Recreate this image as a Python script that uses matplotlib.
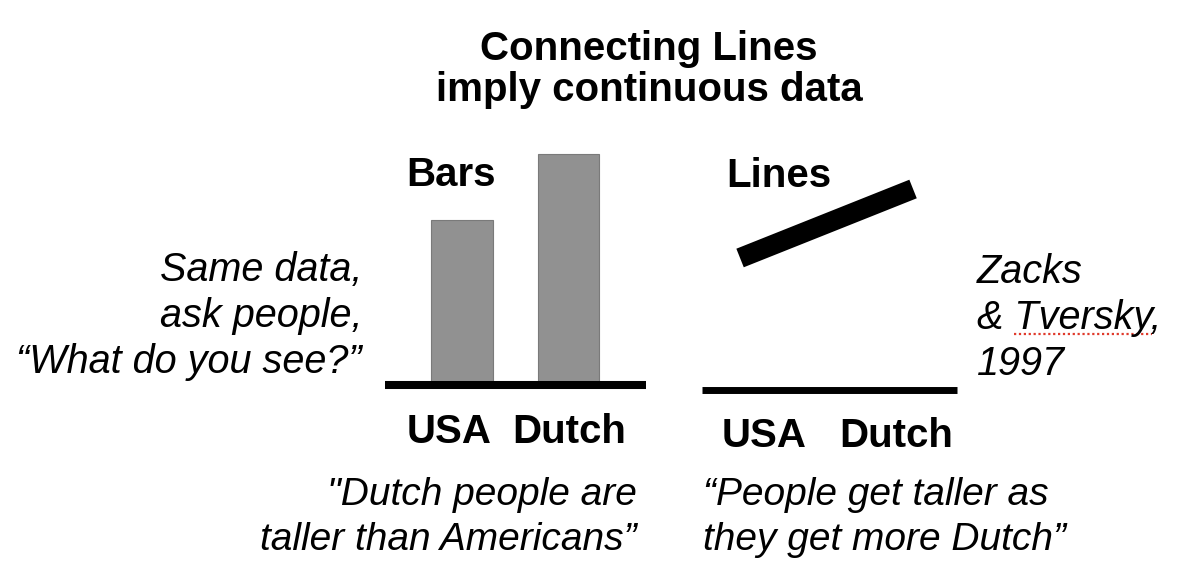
import matplotlib.pyplot as plt
from matplotlib.lines import Line2D

# data
countries = ["USA", "Dutch"]
bar_heights = [5.0, 7.0]
line_heights = [4.4, 6.7]

W, H = 1200, 581
FONT = "Liberation Sans"


def fx(x):
    return x / W


def fy(y):
    return 1 - y / H


def text(x, y, s, size, **kw):
    kw.setdefault("family", FONT)
    fig.text(fx(x), fy(y), s, fontsize=size, va="baseline", **kw)


fig = plt.figure(figsize=(W / 100, H / 100), dpi=100)

# bars panel
ax1 = fig.add_axes([fx(385), fy(385), fx(646 - 385), (385 - 140) / H])
ax1.bar([0, 1], bar_heights, width=0.58, color="#919191", edgecolor="#7a7a7a", linewidth=0.8)
ax1.set_xlim(-0.723, 1.728)
ax1.set_ylim(0, 7.0 * 245 / 231)
ax1.axhline(0, color="black", linewidth=5.8, solid_capstyle="butt", clip_on=False)
ax1.axis("off")

# lines panel
ax2 = fig.add_axes([fx(702), fy(390), fx(957 - 702), (390 - 140) / H])
ax2.plot([0, 1], line_heights, color="black", linewidth=14.4, solid_capstyle="butt")
ax2.set_xlim(-0.22, 1.254)
ax2.set_ylim(0, 250 / 30)
ax2.axhline(0, color="black", linewidth=5.0, solid_capstyle="butt", clip_on=False)
ax2.axis("off")

# title
text(649, 60, "Connecting Lines", 29, weight="bold", ha="center")
text(649, 101, "imply continuous data", 29, weight="bold", ha="center")

# panel headings
text(406, 186, "Bars", 29, weight="bold")
text(726, 187, "Lines", 29, weight="bold")

# category labels
for x, name in zip([449, 569], countries):
    text(x, 443, name, 29, weight="bold", ha="center")
for x, name in zip([764, 896], countries):
    text(x, 447, name, 29, weight="bold", ha="center")

# side notes
for y, s in zip([281, 327, 373], ["Same data,", "ask people,", "\u201cWhat do you see?\u201d"]):
    text(362, y, s, 28.5, style="italic", ha="right")
for y, s in zip([283, 329, 375], ["Zacks", "& Tversky,", "1997"]):
    text(977, y, s, 28.5, style="italic")
fig.add_artist(Line2D([fx(1014), fx(1152)], [fy(334), fy(334)], color="#e03a2c",
                      linewidth=1.6, linestyle=(0, (1, 1.2))))

# interpretations
text(637, 505, "\"Dutch people are", 28, style="italic", ha="right")
text(637, 550, "taller than Americans\u201d", 28, style="italic", ha="right")
text(703, 505, "\u201cPeople get taller as", 28, style="italic")
text(703, 550, "they get more Dutch\u201d", 28, style="italic")

fig.savefig("out.png", dpi=100)
